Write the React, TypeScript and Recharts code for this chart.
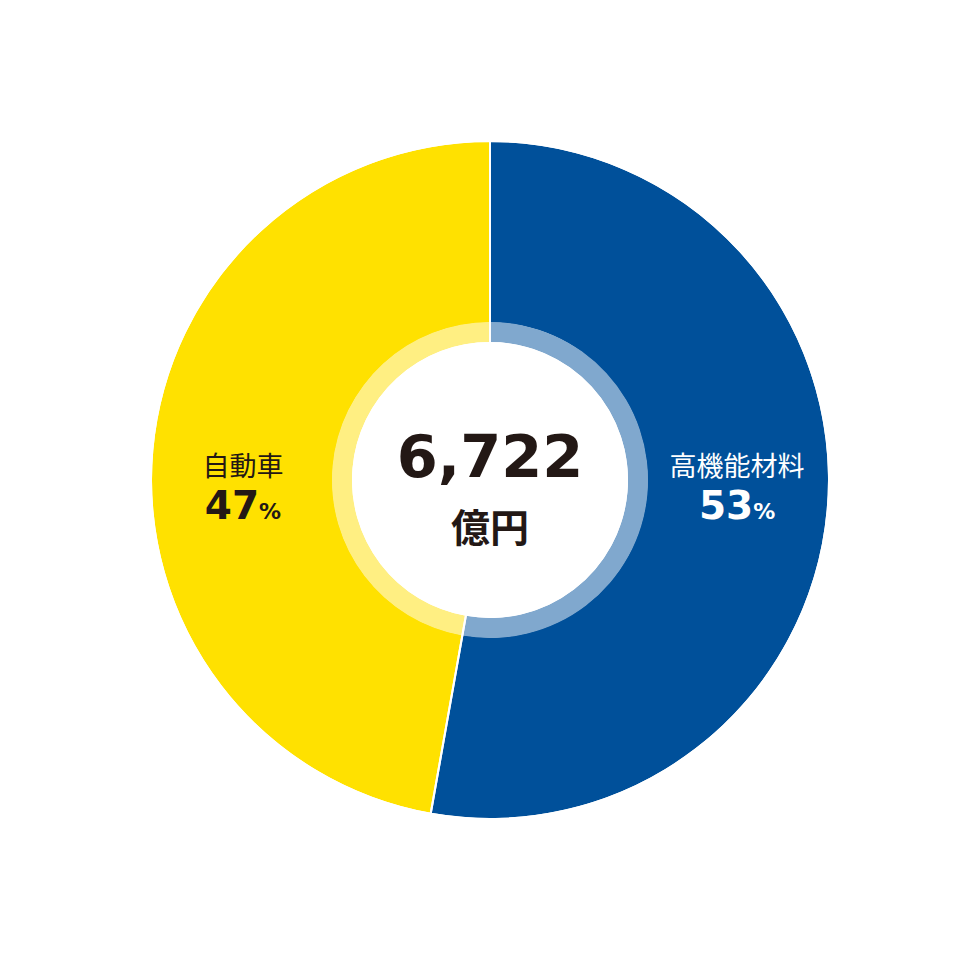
import { PieChart, Pie, Cell } from 'recharts';

// sales breakdown by segment
const segments = ['高機能材料', '自動車'];
const shareLabels = [53, 47];
// slice sizes as measured off the ring (the printed shares are rounded)
const shares = [52.8, 47.2];
const totalLabel = '6,722';
const unitLabel = '億円';

const OUTER_COLORS = ['#00509A', '#FFE100'];
const INNER_COLORS = ['#80A8CE', '#FFEF82'];
const LABEL_COLORS = ['#FFFFFF', '#231815'];

const NUM_FONT = '"DejaVu Sans", sans-serif';
const JP_FONT = '"Noto Sans CJK JP", sans-serif';
const RAD = Math.PI / 180;

const data = segments.map((name, i) => ({ name, value: shares[i] }));

function SegmentLabel(props: any) {
  const { cx, cy, midAngle, index } = props;
  const r = (158 + 338) / 2;
  const x = cx + r * Math.cos(-midAngle * RAD);
  const fill = LABEL_COLORS[index];
  return (
    <g>
      <text x={x} y={cy - 4} textAnchor="middle" fill={fill} fontFamily={JP_FONT} fontSize={27} fontWeight={400}>
        {segments[index]}
      </text>
      <text x={x} y={cy + 39} textAnchor="middle" fill={fill} fontFamily={NUM_FONT} fontWeight={700}>
        <tspan fontSize={39}>{shareLabels[index]}</tspan>
        <tspan fontSize={22}>%</tspan>
      </text>
    </g>
  );
}

// total in the middle of the ring, drawn once
function CenterLabel(props: any) {
  const { cx, cy, index } = props;
  if (index !== 0) return <g />;
  return (
    <g>
      <text x={cx} y={cy - 3} textAnchor="middle" fill="#231815" fontFamily={NUM_FONT} fontSize={59} fontWeight={700}>
        {totalLabel}
      </text>
      <text x={cx} y={cy + 62} textAnchor="middle" fill="#231815" fontFamily={JP_FONT} fontSize={39} fontWeight={700}>
        {unitLabel}
      </text>
    </g>
  );
}

export default function App() {
  return (
    <div style={{ position: 'absolute', left: 0, top: 0, width: 980, height: 960, background: '#fff' }}>
      <PieChart width={980} height={960} margin={{ top: 0, right: 0, bottom: 0, left: 0 }}>
        <Pie
          data={data}
          dataKey="value"
          cx={490}
          cy={480}
          innerRadius={157.5}
          outerRadius={338}
          startAngle={90}
          endAngle={-270}
          stroke="none"
          label={SegmentLabel}
          labelLine={false}
          isAnimationActive={false}
        >
          {data.map((d, i) => (
            <Cell key={d.name} fill={OUTER_COLORS[i]} />
          ))}
        </Pie>
        <Pie
          data={data}
          dataKey="value"
          cx={490}
          cy={480}
          innerRadius={138}
          outerRadius={158}
          startAngle={90}
          endAngle={-270}
          stroke="none"
          label={CenterLabel}
          labelLine={false}
          isAnimationActive={false}
        >
          {data.map((d, i) => (
            <Cell key={d.name} fill={INNER_COLORS[i]} />
          ))}
        </Pie>
        {/* white separators between the segments */}
        <Pie
          data={data}
          dataKey="value"
          cx={490}
          cy={480}
          innerRadius={137}
          outerRadius={339}
          startAngle={90}
          endAngle={-270}
          fill="none"
          stroke="#fff"
          strokeWidth={2}
          isAnimationActive={false}
        >
          {data.map((d) => (
            <Cell key={d.name} fill="none" />
          ))}
        </Pie>
      </PieChart>
    </div>
  );
}
